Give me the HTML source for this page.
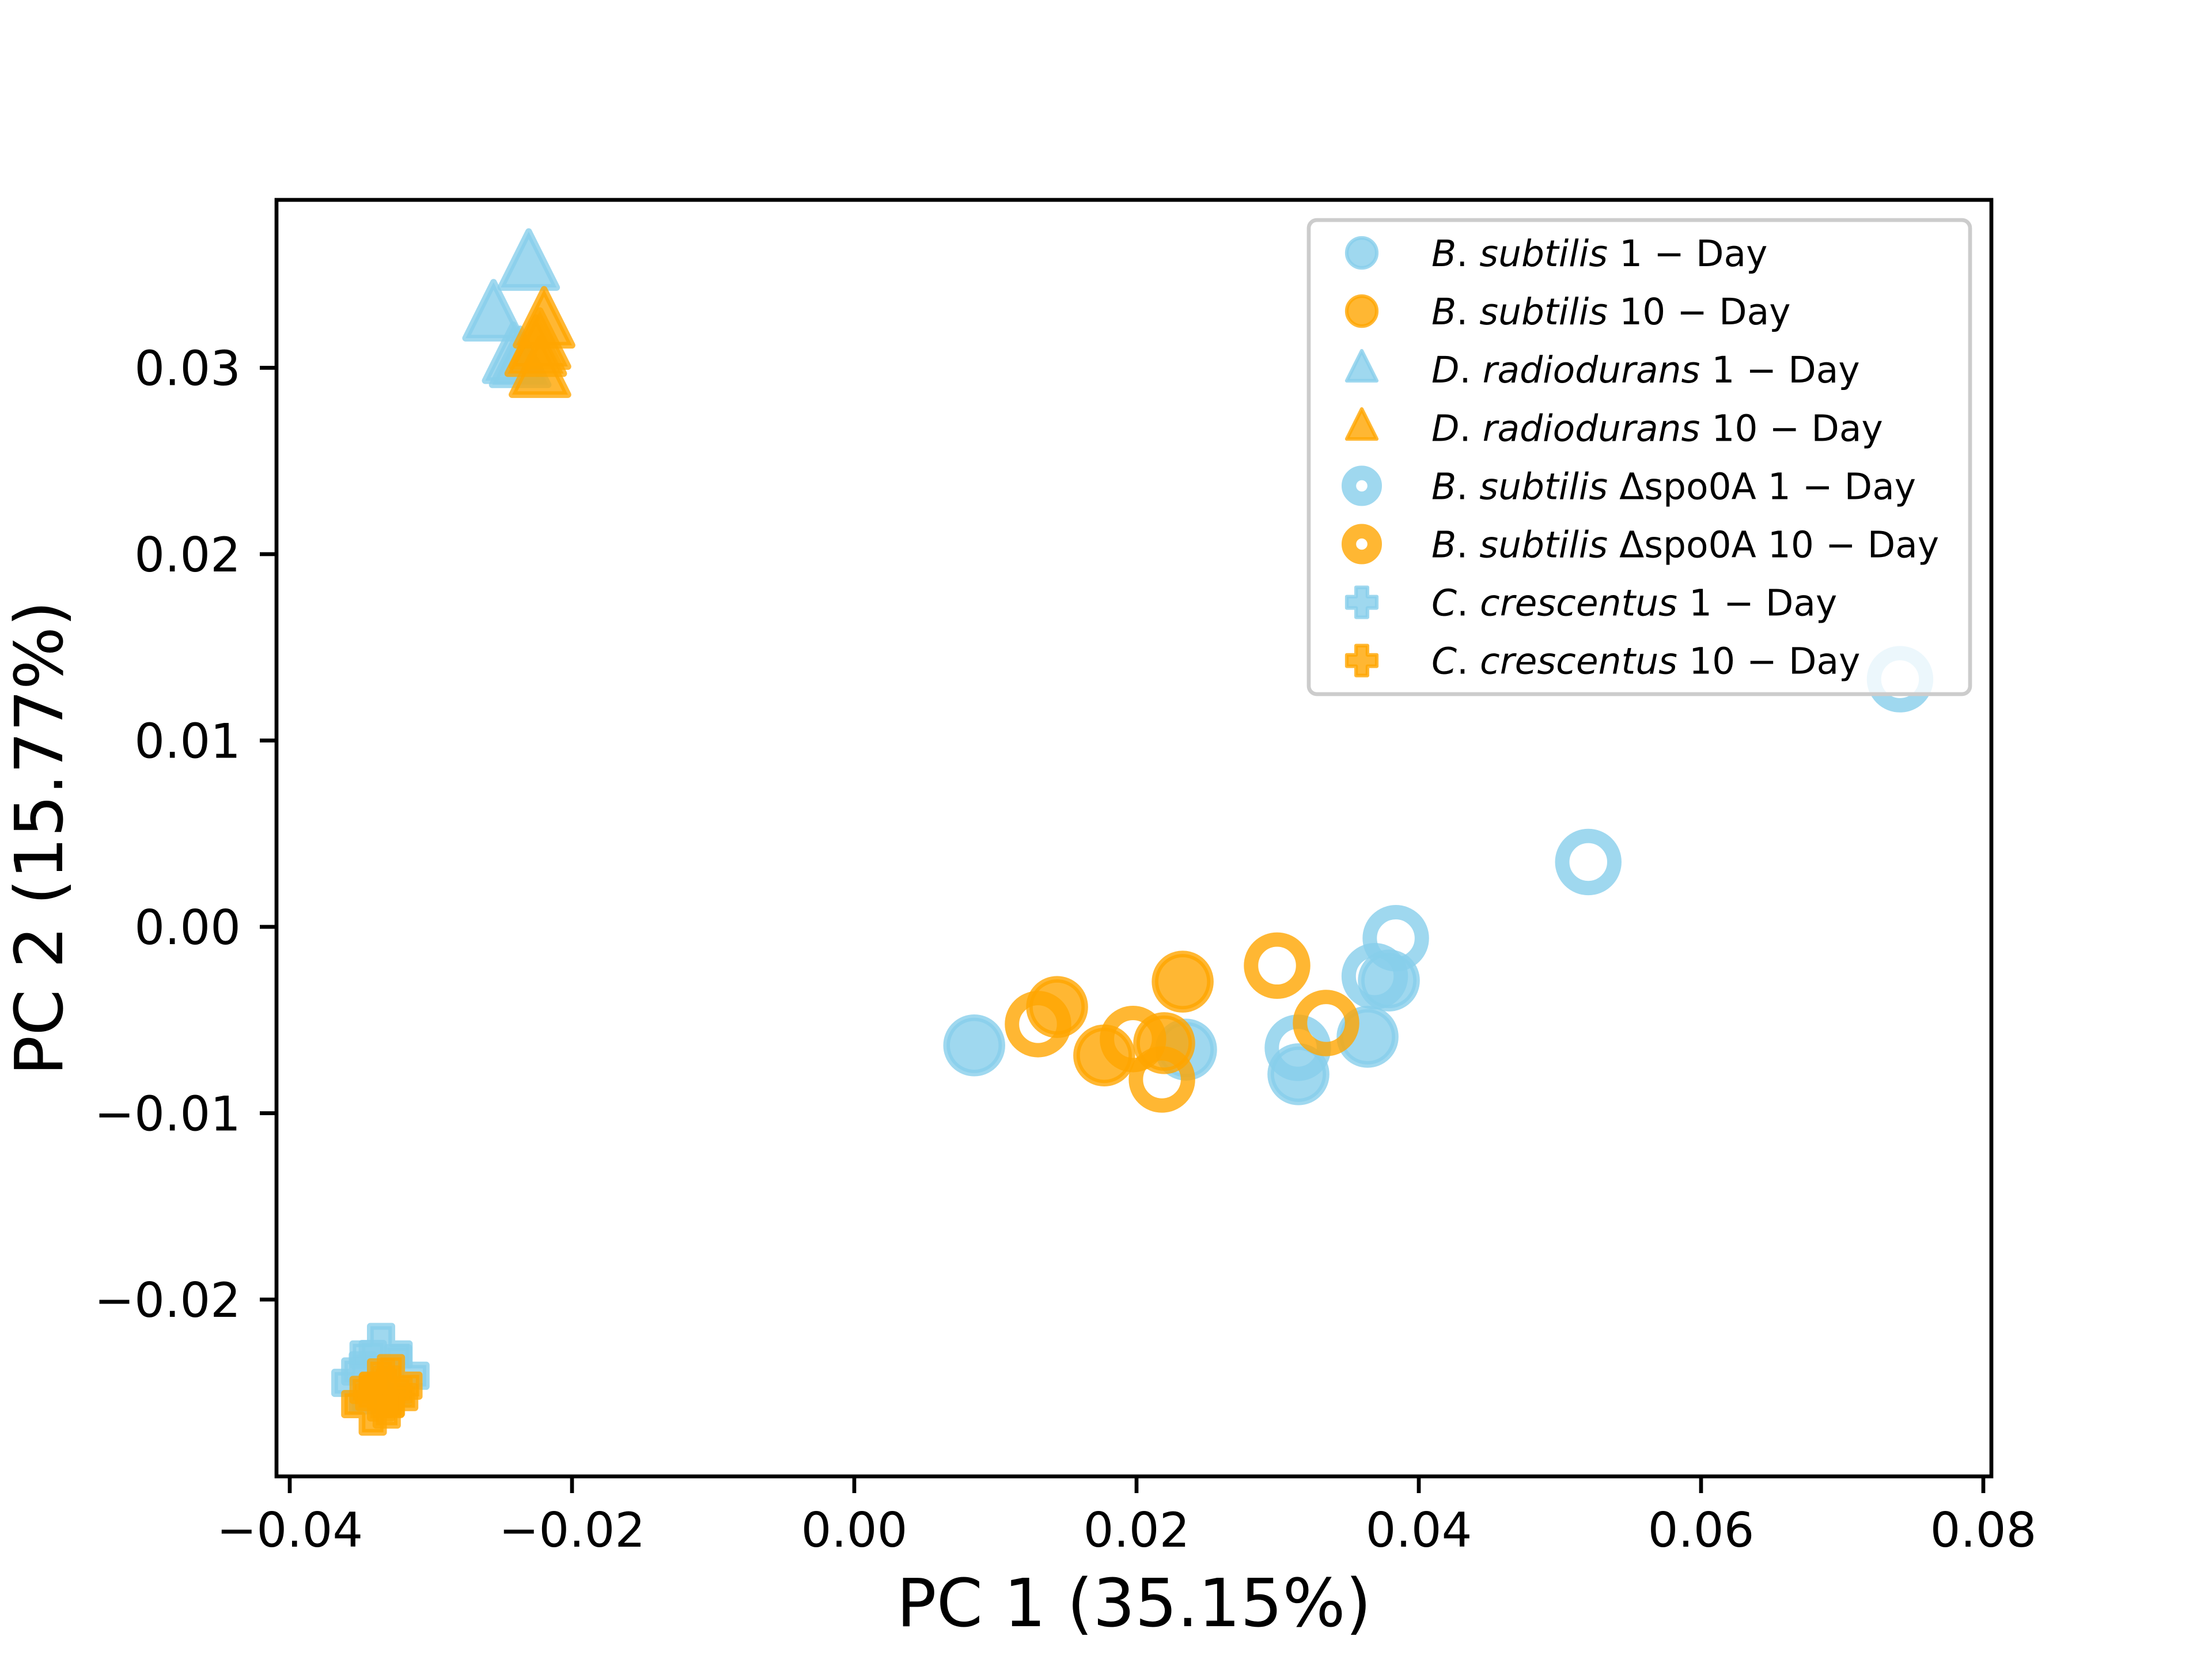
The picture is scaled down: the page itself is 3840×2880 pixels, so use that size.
<!DOCTYPE html>
<html><head><meta charset="utf-8"><style>
html,body{margin:0;padding:0;background:#fff}
svg{display:block}
text{font-family:"DejaVu Sans","Liberation Sans",sans-serif}
</style></head><body>
<svg id="chart" width="3840" height="2880" viewBox="0 0 3840 2880" xmlns="http://www.w3.org/2000/svg">
<rect width="3840" height="2880" fill="#fff"/>
<g id="marks"></g>
<g id="axes"></g>
<g id="legend"></g>
</svg>
<script>
// ---- data ----
const bsub1X = [0.0085, 0.02351, 0.03147, 0.03637, 0.03788];
const bsub1Y = [-0.00636, -0.00659, -0.00791, -0.00590, -0.00288];
const bsub10X = [0.01437, 0.01771, 0.02196, 0.02327];
const bsub10Y = [-0.00430, -0.00690, -0.00624, -0.00294];
const drad1X = [-0.02307, -0.02556, -0.02417, -0.02367];
const drad1Y = [0.03545, 0.03273, 0.03045, 0.03023];
const drad10X = [-0.02198, -0.02227, -0.02227, -0.02257];
const drad10Y = [0.03235, 0.03121, 0.02970, 0.03083];
const spo1X = [0.03143, 0.03688, 0.03837, 0.05201, 0.0741];
const spo1Y = [-0.00649, -0.00265, -0.00061, 0.00348, 0.01329];
const spo10X = [0.01302, 0.01975, 0.02180, 0.02996, 0.03343];
const spo10Y = [-0.00522, -0.00602, -0.00819, -0.00208, -0.00516];
const ccr1X = [-0.03353, -0.03482, -0.03233, -0.03412];
const ccr1Y = [-0.02295, -0.02447, -0.02409, -0.02386];
const ccr10X = [-0.03353, -0.03313, -0.03412, -0.03283];
const ccr10Y = [-0.02485, -0.02523, -0.02561, -0.02462];
const xTicks = [-0.04, -0.02, 0.00, 0.02, 0.04, 0.06, 0.08];
const xTickLabels = ["\u22120.04", "\u22120.02", "0.00", "0.02", "0.04", "0.06", "0.08"];
const yTicks = [-0.02, -0.01, 0.00, 0.01, 0.02, 0.03];
const yTickLabels = ["\u22120.02", "\u22120.01", "0.00", "0.01", "0.02", "0.03"];
const legendLabels = [
 ["B.", " subtilis", " 1 \u2212 Day"],
 ["B.", " subtilis", " 10 \u2212 Day"],
 ["D.", " radiodurans", " 1 \u2212 Day"],
 ["D.", " radiodurans", " 10 \u2212 Day"],
 ["B.", " subtilis", " \u0394spo0A 1 \u2212 Day"],
 ["B.", " subtilis", " \u0394spo0A 10 \u2212 Day"],
 ["C.", " crescentus", " 1 \u2212 Day"],
 ["C.", " crescentus", " 10 \u2212 Day"]
];

// ---- scales ----
const L = 480, R = 3457, T = 347, B = 2563;
function sx(v){ return 1483 + v * 24500; }
function sy(v){ return 1609 - v * 32350; }
const NS = "http://www.w3.org/2000/svg";
const BLUE = "#87CEEB", ORANGE = "#FFA500";
function mk(tag, attrs, parent){
  const e = document.createElementNS(NS, tag);
  for (const k in attrs) e.setAttribute(k, attrs[k]);
  parent.appendChild(e); return e;
}
function marker(kind, color, cx, cy, s, parent){
  let e;
  const st = {fill: color, "fill-opacity": 0.8, stroke: color, "stroke-opacity": 0.8, "stroke-width": s * 0.12, "stroke-linejoin": "round"};
  if (kind === "circle") {
    e = mk("circle", Object.assign({cx, cy, r: s * 0.5}, st), parent);
  } else if (kind === "ring") {
    e = mk("circle", {cx, cy, r: s * 0.39, fill: "none", stroke: color, "stroke-opacity": 0.8, "stroke-width": s * 0.215}, parent);
  } else if (kind === "legring") {
    e = mk("circle", {cx, cy, r: s * 0.32, fill: "none", stroke: color, "stroke-opacity": 0.8, "stroke-width": s * 0.36}, parent);
  } else if (kind === "tri") {
    const h = s, w = s;
    const p = `${cx},${cy - h*0.62} ${cx - w/2},${cy + h*0.38} ${cx + w/2},${cy + h*0.38}`;
    e = mk("polygon", Object.assign({points: p}, st), parent);
  } else {
    const a = s/2, b = s*0.19;
    const p = `${cx-b},${cy-a} ${cx+b},${cy-a} ${cx+b},${cy-b} ${cx+a},${cy-b} ${cx+a},${cy+b} ${cx+b},${cy+b} ${cx+b},${cy+a} ${cx-b},${cy+a} ${cx-b},${cy+b} ${cx-a},${cy+b} ${cx-a},${cy-b} ${cx-b},${cy-b}`;
    e = mk("polygon", Object.assign({points: p}, st), parent);
  }
  return e;
}

const marks = document.getElementById("marks");
const series = [
 ["bsub-1day", "circle", BLUE, bsub1X, bsub1Y, 96],
 ["bsub-10day", "circle", ORANGE, bsub10X, bsub10Y, 96],
 ["drad-1day", "tri", BLUE, drad1X, drad1Y, 97],
 ["drad-10day", "tri", ORANGE, drad10X, drad10Y, 97],
 ["bsub-spo0a-1day", "ring", BLUE, spo1X, spo1Y, 116],
 ["bsub-spo0a-10day", "ring", ORANGE, spo10X, spo10Y, 116],
 ["ccres-1day", "cross", BLUE, ccr1X, ccr1Y, 98],
 ["ccres-10day", "cross", ORANGE, ccr10X, ccr10Y, 98]
];
series.forEach(s => {
  const g = mk("g", {}, marks);
  
  
  s[3].forEach((xv, i) => {
    const e = marker(s[1], s[2], sx(xv), sy(s[4][i]), s[5], g);
    
    
  });
});

// ---- axes ----
const axes = document.getElementById("axes");
const frame = mk("rect", {x: L, y: T, width: R - L, height: B - T, fill: "none", stroke: "#000", "stroke-width": 6.7}, axes);


xTicks.forEach((v, i) => {
  const x = sx(v);
  const t = mk("line", {x1: x, x2: x, y1: B, y2: B + 29, stroke: "#000", "stroke-width": 6.7}, axes);
  
  
  const lb = mk("text", {x: x, y: B + 122, "font-size": 83, "text-anchor": "middle"}, axes);
  lb.textContent = xTickLabels[i];
  
  
});
yTicks.forEach((v, i) => {
  const y = sy(v);
  const t = mk("line", {x1: L - 29, x2: L, y1: y, y2: y, stroke: "#000", "stroke-width": 6.7}, axes);
  
  
  const lb = mk("text", {x: L - 62, y: y + 30, "font-size": 83, "text-anchor": "end"}, axes);
  lb.textContent = yTickLabels[i];
  
  
});
const xl = mk("text", {x: (L + R) / 2, y: 2823, "font-size": 115, "text-anchor": "middle"}, axes);
xl.textContent = "PC 1 (35.15%)";


const yl = mk("text", {x: 0, y: 0, "font-size": 115, "text-anchor": "middle", transform: `translate(108,${(T + B) / 2}) rotate(-90)`}, axes);
yl.textContent = "PC 2 (15.77%)";



// ---- legend ----
const lg = document.getElementById("legend");
const box = mk("rect", {x: 2272, y: 382, width: 1148, height: 823, rx: 14, fill: "#fff", "fill-opacity": 0.8, stroke: "#cccccc", "stroke-width": 6.7}, lg);


series.forEach((s, i) => {
  const y = 439 + i * 101.1;
  const g = mk("g", {}, lg);
  
  
  marker(s[1] === "ring" ? "legring" : s[1], s[2], 2364, y, s[1] === "ring" ? 70 : 52, g);
  const t = mk("text", {x: 2485, y: y + 23, "font-size": 63}, g);
  const lab = legendLabels[i];
  const a = mk("tspan", {"font-style": "italic"}, t); a.textContent = lab[0].replace(".", "");
  const d = mk("tspan", {}, t); d.textContent = ".";
  const b = mk("tspan", {"font-style": "italic"}, t); b.textContent = lab[1];
  const c = mk("tspan", {}, t); c.textContent = lab[2];
});
</script>
</body></html>
